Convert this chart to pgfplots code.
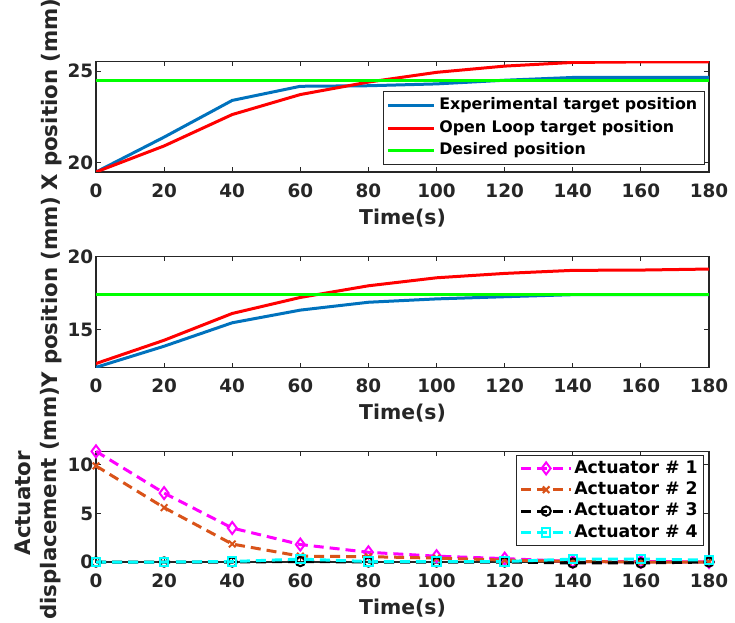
\documentclass[border=0pt]{standalone}
\usepackage{pgfplots}
\pgfplotsset{compat=1.18}
\usepackage{fontspec}
\setmainfont{DejaVu Sans}
\definecolor{mblue}{HTML}{0072BD}
\definecolor{morange}{HTML}{D95319}
\definecolor{mmagenta}{HTML}{FF00FF}
\definecolor{mcyan}{HTML}{00FFFF}
\definecolor{mred}{HTML}{FF0000}
\definecolor{mgreen}{HTML}{00FF00}
\definecolor{axgray}{HTML}{262626}

\pgfplotsset{
  panel/.style={
    scale only axis, width=459.75pt, height=83pt,
    anchor=south west,
    xmin=0, xmax=180, xtick={0,20,...,180},
    tick align=inside, major tick length=3.5pt,
    axis line style={axgray, line width=0.8pt},
    every tick/.style={axgray, line width=0.8pt},
    tick label style={font=\fontsize{13.8}{16}\selectfont\bfseries, text=axgray},
    /pgf/number format/assume math mode=true,
    xticklabel style={yshift=-5pt},
    yticklabel style={xshift=1.5pt},
    xlabel={Time(s)},
    label style={font=\fontsize{15.3}{18}\selectfont\bfseries, text=axgray},
    ylabel style={font=\fontsize{16}{19.5}\selectfont\bfseries},
    xlabel style={at={(axis description cs:0.5,0)}, anchor=center, yshift=-34.5pt},
    legend style={draw=axgray, line width=0.6pt, fill=white,
      font=\fontsize{11.9}{14}\selectfont\bfseries,
      nodes={text height=9pt, text depth=3pt, inner sep=2.5pt}},
    legend cell align=left,
    every axis plot/.append style={line width=2.25pt},
  },
}

\begin{document}
\begin{tikzpicture}
\useasboundingbox (0,0) rectangle (551.25pt,466.5pt);

% X position
\begin{axis}[panel, at={(72pt,337.5pt)},
  ymin=19.5, ymax=25.53, ytick={20,25},
  ylabel={X position (mm)},
  ylabel style={at={(axis description cs:-0.072,0.7)}, anchor=center},
  legend style={at={(0.9935,0.732)}, anchor=north east},
  legend image code/.code={\draw[#1] (0pt,0pt) -- (34.5pt,0pt);},
]
\addplot[mblue] coordinates {(0,19.5) (20,21.4) (40,23.4) (60,24.17) (80,24.2) (100,24.3) (120,24.5) (140,24.65) (160,24.65) (180,24.65)};
\addplot[mred] coordinates {(0,19.5) (20,20.92) (40,22.63) (60,23.72) (80,24.4) (100,24.93) (120,25.27) (140,25.47) (160,25.5) (180,25.5)};
\addplot[mgreen] coordinates {(0,24.5) (20,24.5) (40,24.5) (60,24.5) (80,24.5) (100,24.5) (120,24.5) (140,24.5) (160,24.5) (180,24.5)};
\legend{Experimental target position, Open Loop target position, Desired position}
\end{axis}

% Y position
\begin{axis}[panel, at={(72pt,191pt)},
  ymin=12.4, ymax=20, ytick={15,20},
  ylabel={Y position (mm)},
  ylabel style={at={(axis description cs:-0.072,0.68)}, anchor=center},
]
\addplot[mblue] coordinates {(0,12.4) (20,13.85) (40,15.46) (60,16.33) (80,16.87) (100,17.1) (120,17.25) (140,17.39) (160,17.4) (180,17.4)};
\addplot[mred] coordinates {(0,12.66) (20,14.26) (40,16.1) (60,17.2) (80,18.0) (100,18.55) (120,18.85) (140,19.06) (160,19.08) (180,19.15)};
\addplot[mgreen] coordinates {(0,17.4) (20,17.4) (40,17.4) (60,17.4) (80,17.4) (100,17.4) (120,17.4) (140,17.4) (160,17.4) (180,17.4)};
\end{axis}

% Actuator displacement
\begin{axis}[panel, at={(72pt,45pt)},
  ymin=0, ymax=11.4, ytick={0,5,10}, clip=false,
  ylabel={Actuator\\displacement (mm)},
  ylabel style={at={(axis description cs:-0.0946,0.53)}, anchor=center, align=center},
  legend style={at={(0.992,0.970)}, anchor=north east,
    font=\fontsize{13}{16}\selectfont\bfseries,
    nodes={text height=10pt, text depth=3pt, inner sep=1.5pt}},
  legend image code/.code={
    \draw[mark repeat=2, mark phase=2, #1] plot coordinates {(0pt,0pt) (18.5pt,0pt) (37pt,0pt)};},
  every axis plot/.append style={dash pattern=on 7.5pt off 4.5pt, mark options={solid, line width=1.5pt}},
]
\addplot[mmagenta, mark=diamond, mark size=4.5pt] coordinates {(0,11.4) (20,7.1) (40,3.5) (60,1.8) (80,1.0) (100,0.6) (120,0.35) (140,0.05) (160,0.05) (180,0.0)};
\addplot[morange, mark=x, mark size=3.5pt] coordinates {(0,9.9) (20,5.6) (40,1.85) (60,0.6) (80,0.55) (100,0.4) (120,0.2) (140,0.05) (160,0.0) (180,0.0)};
\addplot[black, mark=o, mark size=3.5pt] coordinates {(0,0) (20,0) (40,0) (60,0.05) (80,0) (100,0) (120,0) (140,-0.1) (160,-0.1) (180,0)};
\addplot[mcyan, mark=square, mark size=3.2pt] coordinates {(0,0) (20,0) (40,0.05) (60,0.3) (80,0.05) (100,0.05) (120,0.05) (140,0.3) (160,0.3) (180,0.2)};
\legend{Actuator \# 1, Actuator \# 2, Actuator \# 3, Actuator \# 4}
\end{axis}
\end{tikzpicture}
\end{document}
